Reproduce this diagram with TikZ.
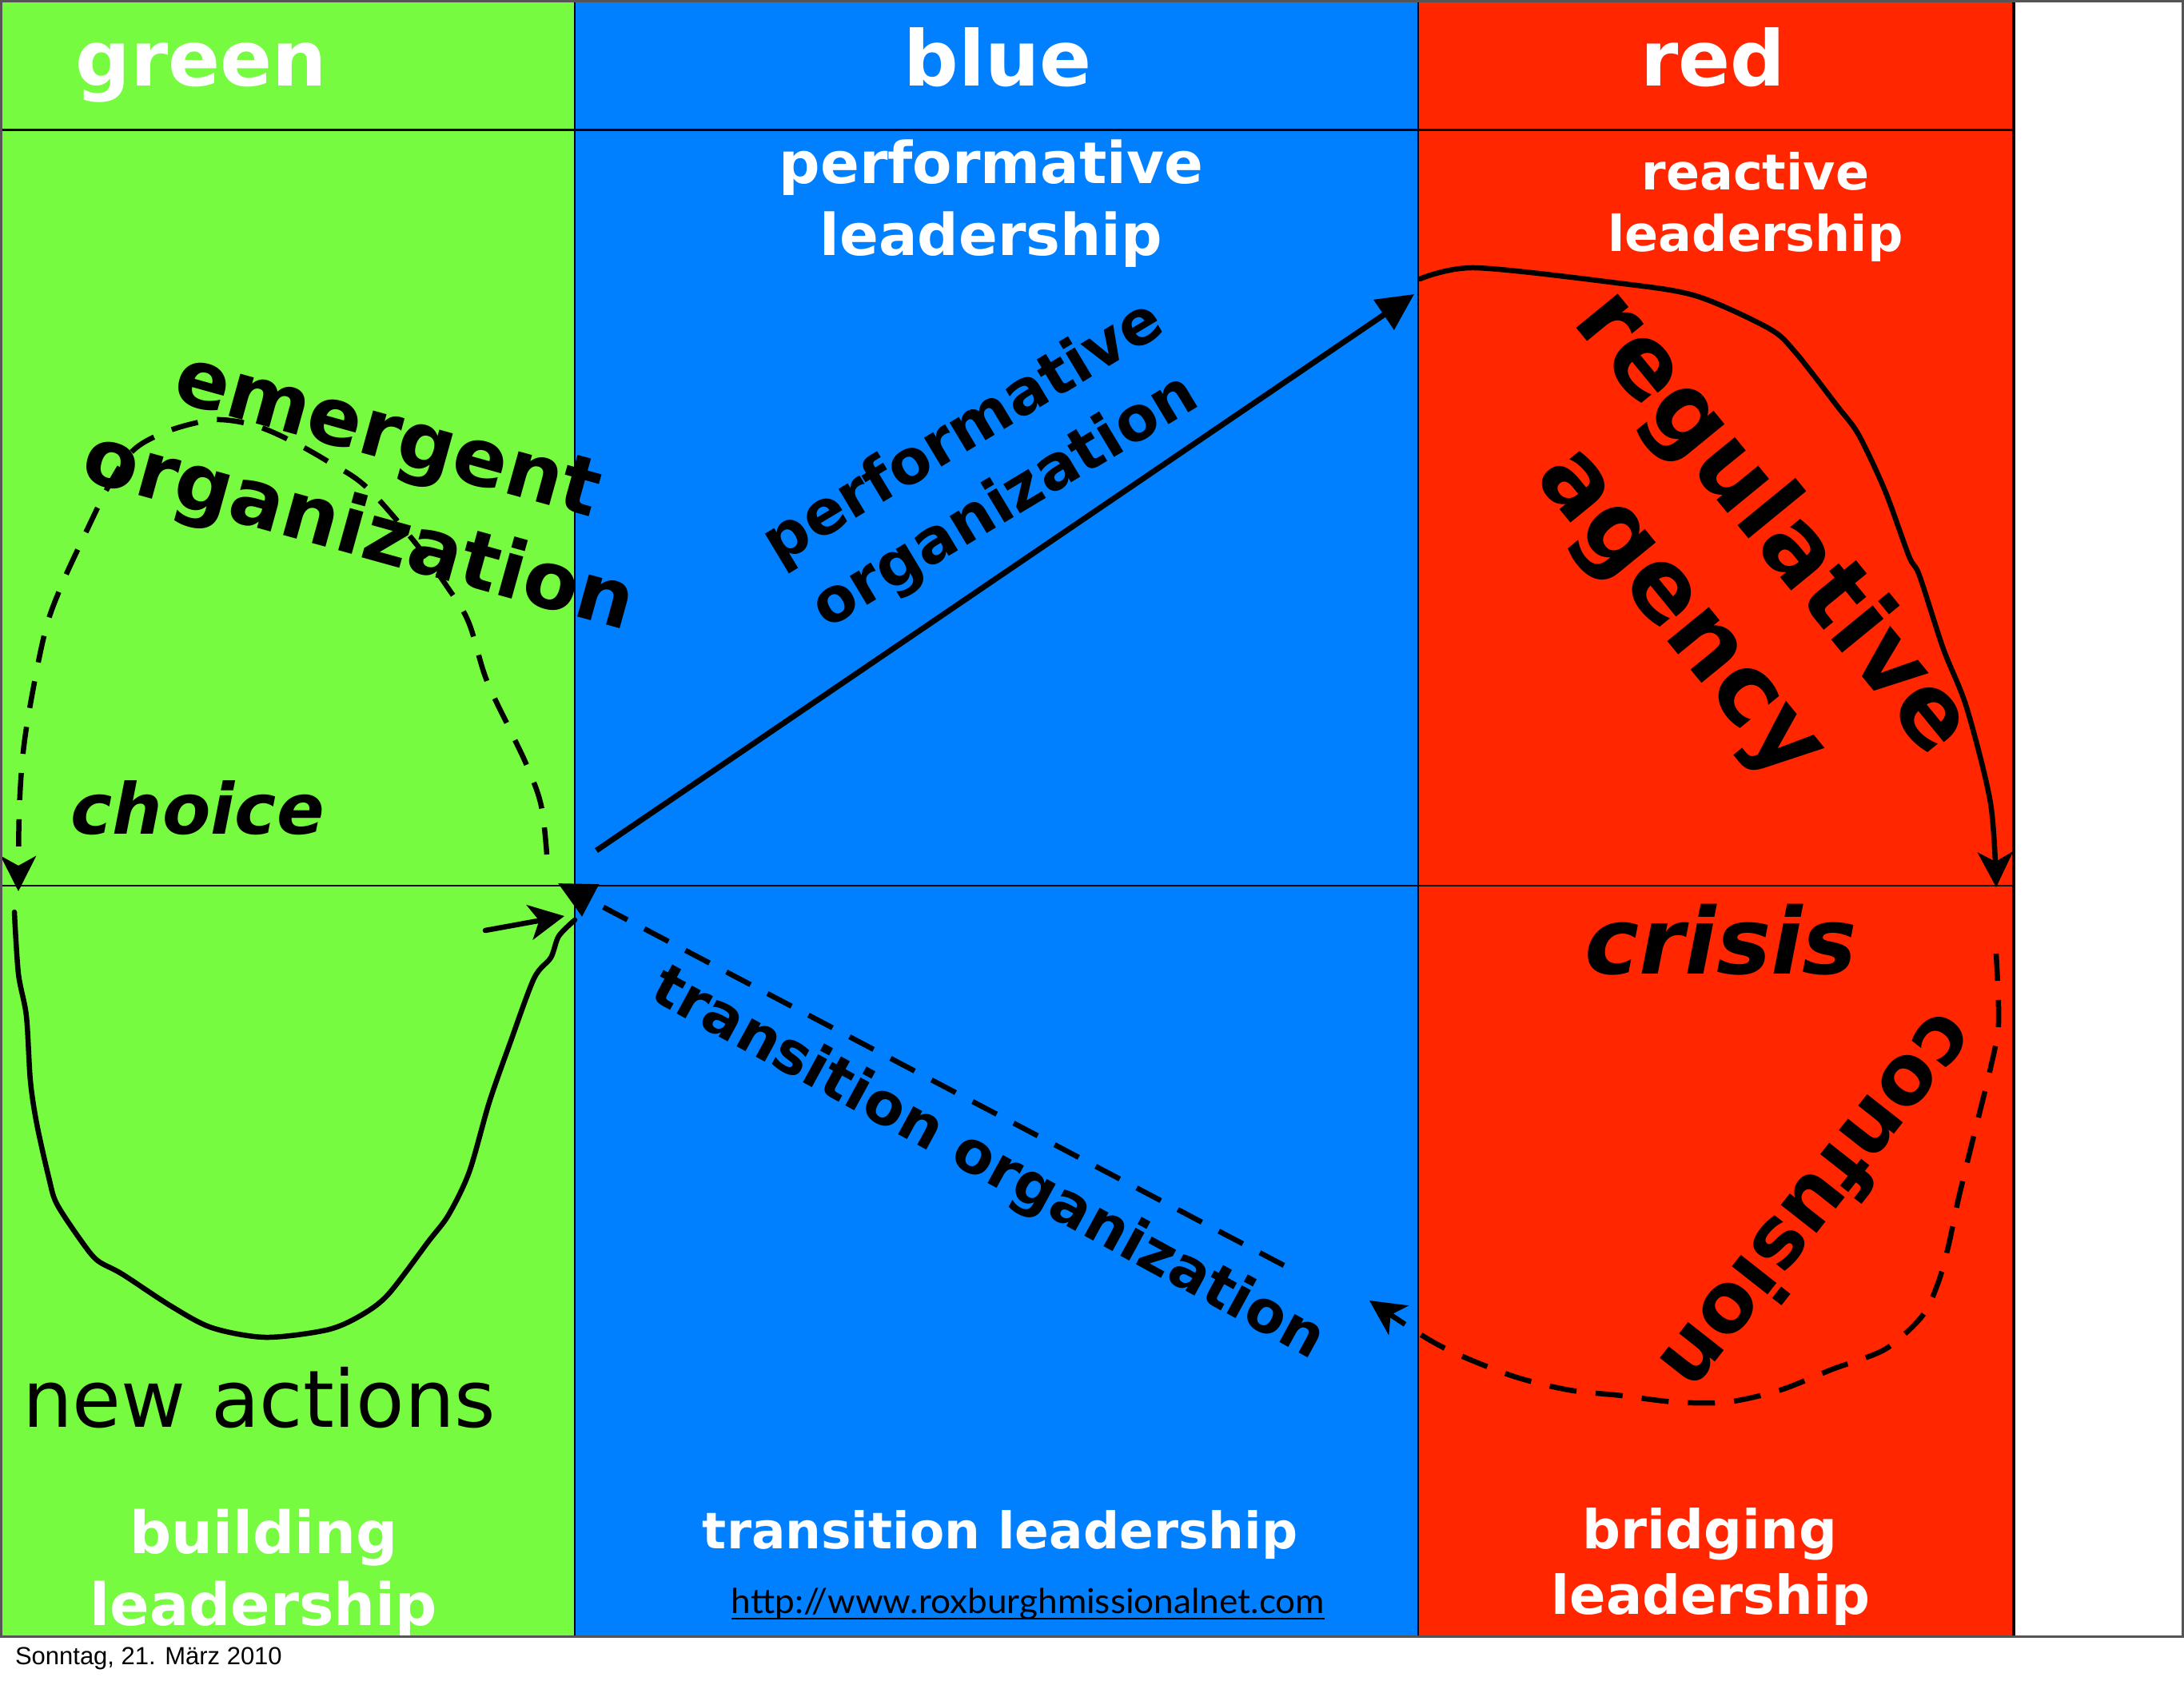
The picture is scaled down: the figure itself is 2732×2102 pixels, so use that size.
\documentclass[tikz,border=0pt]{standalone}
\usepackage{fontspec}
\setmainfont{DejaVu Sans}
\newfontfamily\urlfont{Lato}
\newfontfamily\datefont{Liberation Sans}
\usetikzlibrary{arrows.meta}
\definecolor{cgreen}{HTML}{76FB40}
\definecolor{cblue}{HTML}{0080FF}
\definecolor{cred}{HTML}{FF2600}
\definecolor{cframe}{HTML}{555555}
\newcommand{\fsz}[1]{\fontsize{#1}{#1}\selectfont}
\begin{document}
\begin{tikzpicture}[x=1pt,y=-1pt,
  lbl/.style={anchor=base,inner sep=0pt,outer sep=0pt},
  wlbl/.style={lbl,text=white,font={\bfseries\fsz{#1}}},
  blbl/.style={lbl,text=black,font={\bfseries\fsz{#1}}},
  ilbl/.style={lbl,text=black,font={\bfseries\itshape\fsz{#1}}},
  solidcurve/.style={line width=6.5pt,line join=round,line cap=round},
  dashcurve/.style={line width=6.5pt,dash pattern=on 34pt off 24pt},
  dart/.style={-{Stealth[length=44pt,width=44pt,inset=12pt]}},
  tri/.style={-{Triangle[length=46pt,width=44pt]}},
]
\useasboundingbox (0,0) rectangle (2732,2102);
\fill[white] (0,0) rectangle (2732,2102);
% columns
\fill[cgreen] (0,0) rectangle (719,2047);
\fill[cblue] (719,0) rectangle (1774,2047);
\fill[cred] (1774,0) rectangle (2519,2047);
% grid
\draw[line width=3pt] (0,162) -- (2519,162);
\draw[line width=2.2pt] (0,1108) -- (2519,1108);
\draw[line width=2.2pt] (719,0) -- (719,2047);
\draw[line width=2.2pt] (1774,0) -- (1774,2047);
\draw[line width=4.5pt] (2519,0) -- (2519,2047);

% coordinates
\coordinate (regS) at (1776,349);
\coordinate (regE) at (2497,1110);
\coordinate (emS) at (684,1069);
\coordinate (emE) at (23,1115);
\coordinate (naS) at (18,1141);
\coordinate (naE) at (719,1151);
\coordinate (naA) at (607,1164);
\coordinate (naB) at (706,1146);
\coordinate (pS) at (746,1064);
\coordinate (pE) at (1769,368);
\coordinate (tS) at (1606,1583);
\coordinate (hub) at (698,1105);
\coordinate (cS) at (2497,1193);
\coordinate (cE) at (1713,1627);

% regulative agency curve
\draw[solidcurve,dart] plot[smooth,tension=0.5] coordinates {(regS) (1845,335) (2023,354) (2121,370) (2213,411) (2246,441) (2299,509) (2325,544) (2358,614) (2388,696) (2401,720) (2431,812) (2460,885) (2490,1005) (regE)};
% emergent organization dashed curve
\draw[dashcurve,dart] plot[smooth,tension=0.6] coordinates {(emS) (677,1008) (660,960) (637,911) (608,849) (586,778) (560,735) (517,676) (459,610) (413,579) (367,553) (321,533) (276,525) (241,530) (201,543) (166,564) (138,604) (98,686) (75,737) (57,788) (40,870) (29,941) (24,1018) (emE)};
% new actions curve
\draw[solidcurve] plot[smooth,tension=0.5] coordinates {(naS) (23,1218) (33,1271) (38,1352) (46,1406) (61,1473) (71,1506) (102,1553) (122,1577) (153,1594) (214,1634) (265,1661) (332,1673) (408,1664) (449,1647) (485,1620) (536,1553) (561,1520) (587,1466) (612,1379) (638,1305) (668,1224) (689,1198) (699,1171) (naE)};
\draw[solidcurve,dart] (naA) -- (naB);
% performative arrow
\draw[line width=7pt,tri] (pS) -- (pE);
% transition dashed arrow
\draw[dashcurve,tri] (tS) -- (hub);
% confusion dashed curve
\draw[dashcurve,dart] plot[smooth,tension=0.5] coordinates {(cS) (2500,1280) (2490,1336) (2470,1417) (2450,1499) (2437,1560) (2424,1606) (2404,1647) (2358,1688) (2292,1713) (2227,1739) (2161,1754) (2095,1754) (2029,1746) (1963,1739) (1897,1723) (1832,1698) (1786,1675) (cE)};

% white labels
\node[wlbl=96] (tgreen) at (252,107) {green};
\node[wlbl=96] (tblue) at (1248,107) {blue};
\node[wlbl=96] (tred) at (2143,107) {red};
\node[wlbl=72] (perf1) at (1240,229) {performative};
\node[wlbl=72] (perf2) at (1240,319) {leadership};
\node[wlbl=62] (reac1) at (2196,237) {reactive};
\node[wlbl=62] (reac2) at (2196,314) {leadership};
\node[wlbl=73] (build1) at (330,1943) {building};
\node[wlbl=73] (build2) at (330,2033) {leadership};
\node[wlbl=63] (trans) at (1251,1937) {transition leadership};
\node[wlbl=67] (bridge1) at (2139,1937) {bridging};
\node[wlbl=67] (bridge2) at (2140,2019) {leadership};

% black labels
\node[blbl=100,rotate=-15.5] (em1) at (477,574) {emergent};
\node[blbl=100,rotate=-15.5] (em2) at (441,694) {organization};
\node[ilbl=88] (choice) at (247,1043) {choice};
\node[blbl=77,rotate=31] (po1) at (1217,561) {performative};
\node[blbl=77,rotate=31] (po2) at (1269,647) {organization};
\node[blbl=123,rotate=-50.7] (ra1) at (2190,677) {regulative};
\node[blbl=123,rotate=-50.7] (ra2) at (2075,789) {agency};
\node[ilbl=115] (crisis) at (2153,1218) {crisis};
\node[blbl=104,rotate=-128.2] (conf) at (2248,1482) {confusion};
\node[blbl=73,rotate=-28.6] (to) at (1226,1475) {transition organization};
\node[lbl,anchor=base west,font=\fsz{99}] (new) at (28,1785) {new actions};
\node[lbl,font={\urlfont\fsz{43}}] (url) at (1286,2018) {\resizebox{742pt}{\height}{http://www.roxburghmissionalnet.com}};
\draw[line width=2.5pt] ([yshift=-7pt]url.base west) -- ([yshift=-7pt]url.base east);

% frame
\draw[cframe,line width=3pt] (1.5,1.5) rectangle (2730.5,2047);
\node[lbl,anchor=base west,font={\datefont\fsz{31}}] (date) at (19,2082) {Sonntag, 21. März 2010};
\end{tikzpicture}
\end{document}
